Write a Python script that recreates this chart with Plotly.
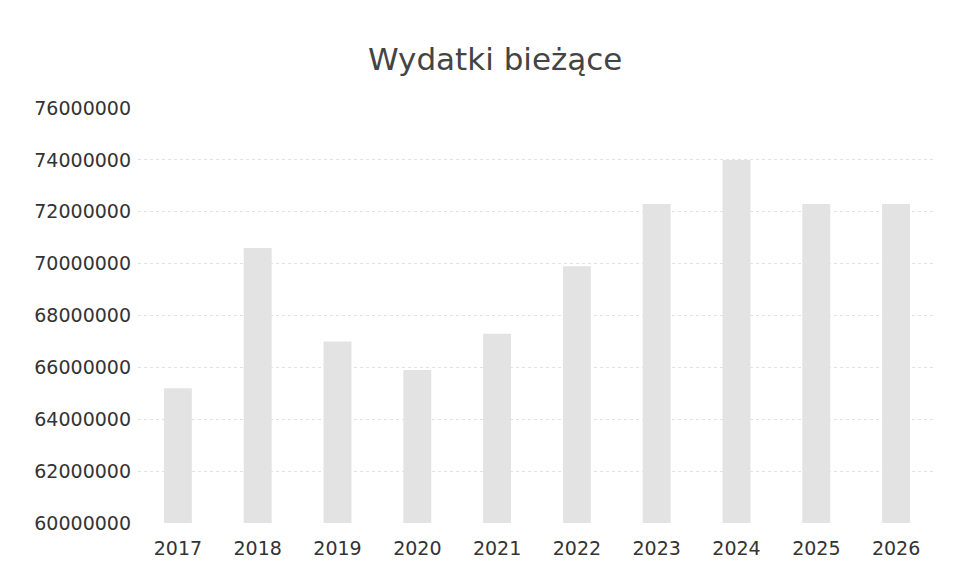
import plotly.graph_objects as go

years = ["2017", "2018", "2019", "2020", "2021", "2022", "2023", "2024", "2025", "2026"]
wydatki = [65200000, 70600000, 67000000, 65900000, 67300000, 69900000,
           72300000, 74000000, 72300000, 72300000]
y_ticks = [60000000, 62000000, 64000000, 66000000, 68000000,
           70000000, 72000000, 74000000, 76000000]

fig = go.Figure()
fig.add_bar(
    x=years,
    y=wydatki,
    marker=dict(color="#e3e3e3", line=dict(width=0)),
    width=0.35,
)

fig.update_layout(
    width=959,
    height=585,
    plot_bgcolor="white",
    paper_bgcolor="white",
    showlegend=False,
    font=dict(family="DejaVu Sans, sans-serif", color="#3a3a3a"),
    title=dict(
        text="Wydatki bieżące",
        x=0.508,
        xanchor="center",
        y=0.913,
        yanchor="middle",
        font=dict(size=31, color="#444444"),
    ),
    margin=dict(l=130, r=31, t=100, b=70),
)
fig.update_xaxes(
    showgrid=False,
    showline=False,
    ticks="",
    ticklabelstandoff=12,
    tickfont=dict(size=19, color="#333333"),
)
fig.update_yaxes(
    range=[60000000, 76000000],
    tickvals=y_ticks,
    ticktext=[str(v) for v in y_ticks],
    showgrid=True,
    gridcolor="#e2e2e2",
    griddash="dot",
    zeroline=False,
    showline=False,
    ticks="",
    ticklabelstandoff=6,
    tickfont=dict(size=19, color="#333333"),
)

fig.write_html("out.html")
